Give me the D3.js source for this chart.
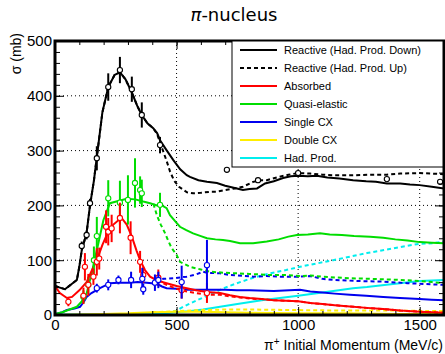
<!DOCTYPE html>
<html>
<head>
<meta charset="utf-8">
<script src="https://cdn.jsdelivr.net/npm/d3@7"></script>
<style>
  html, body { margin: 0; padding: 0; background: #fff; }
  svg { display: block; }
  text { font-family: "Liberation Sans", Arial, sans-serif; fill: #000; }
</style>
</head>
<body>
<svg id="chart" width="445" height="354"></svg>
<script>
// ---- π-nucleus cross sections: MC curves (Had. Prod. Down = solid, Up = dashed) ----
const reactiveDown = [[0,53],[20,50],[41,47],[70,57],[90,64],[100,88],[110,118],[130,150],[144,200],[160,245],[172,288],[195,370],[219,416],[245,438],[267,443],[290,430],[316,406],[340,380],[357,365],[380,350],[404,341],[420,332],[432,319],[460,300],[486,283],[515,266],[542,255],[555,252],[590,246],[625,243],[666,241],[700,236],[748,231],[773,228],[800,230],[831,231],[864,240],[900,244],[938,250],[970,253],[1000,254],[1040,253],[1077,254],[1120,251],[1170,249],[1226,246],[1280,244],[1320,243],[1365,240],[1420,240],[1460,238],[1500,237],[1550,234],[1600,231]];
const reactiveUp = [[0,53],[20,50],[41,47],[70,57],[90,64],[100,88],[110,118],[130,150],[144,200],[160,245],[172,288],[195,370],[219,416],[245,438],[267,443],[290,430],[316,406],[340,380],[357,365],[380,350],[404,341],[420,330],[440,305],[460,280],[473,262],[490,245],[510,234],[543,224],[568,222],[600,223],[640,225],[666,225],[700,228],[740,231],[773,234],[815,243],[850,246],[871,246],[920,252],[960,256],[1000,259],[1050,258],[1100,256],[1150,255],[1226,255],[1300,256],[1365,256],[1420,258],[1500,259],[1550,258],[1600,257]];

const absorbedDown = [[0,53],[20,40],[49,31],[70,33],[100,45],[130,60],[150,80],[172,100],[195,128],[213,146],[240,165],[261,173],[274,177],[295,165],[316,143],[335,118],[350,100],[370,82],[391,70],[420,63],[459,58],[500,53],[542,49],[580,45],[625,42],[679,40],[720,36],[760,33],[800,31],[850,29],[900,27],[950,26],[1000,25],[1050,22],[1100,20],[1150,18],[1200,16],[1283,13],[1350,11],[1420,8],[1500,6],[1550,5],[1600,4]];
const absorbedUp = [[420,63],[459,55],[500,48],[542,43],[580,40],[625,37],[679,37],[720,34],[760,32],[800,30],[850,29],[900,27],[950,26],[1000,25],[1050,22],[1100,20],[1150,18],[1200,16],[1283,13],[1350,11],[1420,8],[1500,6],[1550,5],[1600,4]];

const quasiDown = [[0,2],[30,5],[60,10],[90,15],[110,25],[130,39],[150,75],[172,118],[199,173],[226,204],[260,208],[295,212],[330,211],[363,207],[391,204],[420,200],[440,200],[459,195],[473,182],[500,168],[514,161],[540,155],[568,149],[600,144],[625,140],[660,138],[691,137],[720,135],[761,131],[815,131],[871,134],[920,138],[960,143],[995,146],[1040,147],[1090,149],[1130,147],[1180,146],[1230,144],[1296,143],[1350,141],[1400,138],[1450,136],[1500,133],[1550,132],[1600,131]];
const quasiUp = [[405,203],[419,182],[435,165],[452,150],[466,135],[480,122],[500,110],[514,97],[555,88],[600,83],[637,79],[700,77],[748,76],[800,75],[884,73],[950,73],[1008,71],[1050,72],[1100,70],[1213,67],[1300,66],[1419,64],[1500,62],[1550,60],[1600,58]];

const singleCxDown = [[0,2],[30,5],[49,9],[80,12],[103,15],[120,25],[130,33],[150,40],[185,49],[226,58],[260,59],[308,59],[340,60],[377,59],[419,57],[440,52],[459,49],[500,48],[542,46],[609,46],[651,46],[700,46],[748,45],[800,45],[900,44],[1008,46],[1050,43],[1100,41],[1150,39],[1213,37],[1280,35],[1350,33],[1419,31],[1500,29],[1550,28],[1600,27]];
const singleCxUp = [[419,57],[445,66],[487,67],[542,70],[580,74],[609,79],[625,77],[679,76],[720,73],[815,70],[870,71],[925,70],[1008,70],[1049,71],[1100,66],[1144,64],[1250,62],[1350,61],[1450,58],[1500,57],[1550,56],[1600,55]];

const doubleCxDown = [[0,0],[100,1],[200,2],[300,3],[400,5],[500,6],[600,6],[700,5],[800,4],[1000,3],[1200,3],[1400,2],[1600,2]];
const doubleCxUp = [[400,5],[500,7],[600,9],[700,10],[800,10],[1000,9],[1200,8],[1400,8],[1600,7]];

const hadProdDown = [[0,1],[200,1],[300,1],[400,2],[473,4],[550,7],[609,10],[679,15],[750,20],[850,27],[1000,35],[1100,41],[1226,49],[1283,51],[1400,57],[1500,62],[1600,64]];
const hadProdUp = [[400,2],[460,4],[500,8],[527,15],[560,22],[625,35],[700,50],[748,58],[815,68],[884,76],[950,82],[1008,88],[1144,100],[1283,113],[1419,124],[1500,130],[1555,131],[1600,134]];

// ---- measured points: momentum, cross section, error ----
const reactiveX = [110,130,144,172,219,267,316,357,432,707,835,1000,1365,1584];
const reactiveY = [126,146,204,286,416,447,412,365,310,265,246,259,248,243];
const reactiveE = [8,8,8,22,25,24,23,23,15,4,4,4,4,4];

const absorbedX = [55,117,123,137,158,172,182,210,219,233,267,311,350,363,425,521,625];
const absorbedY = [24,35,88,55,70,97,103,161,152,158,177,141,97,73,68,45,40];
const absorbedE = [8,15,25,20,15,25,20,30,25,25,28,30,20,15,15,15,18];

const quasiX = [117,137,160,172,219,267,300,329,350,357,432];
const quasiY = [33,55,100,144,213,205,210,241,228,222,201];
const quasiE = [12,15,25,35,33,40,45,45,25,25,22];

const singleCxX = [172,219,261,313,359,363,411,425,521,625];
const singleCxY = [49,55,64,64,66,47,59,64,60,91];
const singleCxE = [8,10,8,15,20,10,15,15,30,46];

// ---- axis ticks and labels ----
const xMajor = [0,500,1000,1500];
const yMajor = [0,100,200,300,400,500];
const legendLabels = ["Reactive (Had. Prod. Down)","Reactive (Had. Prod. Up)","Absorbed","Quasi-elastic","Single CX","Double CX","Had. Prod."];
const legendColors = ["#000","#000","#ff0000","#00dd00","#0000ee","#ffee00","#00eeee"];

(function draw() {
  const svg = d3.select("#chart");
  const W = 445, H = 354;
  const pL = 55, pR = 444, pT = 41, pB = 315;
  const x = d3.scaleLinear().domain([0,1600]).range([pL,pR]);
  const y = d3.scaleLinear().domain([0,500]).range([pB,pT]);

  svg.append("rect").attr("width",W).attr("height",H).attr("fill","#fff");

  // title
  const title = svg.append("text").attr("x",234).attr("y",21).attr("text-anchor","middle")
    .style("font-family","'DejaVu Sans', sans-serif").style("font-size","18px");
  title.append("tspan").style("font-style","italic").text("π");
  title.append("tspan").text("-nucleus");

  // dotted grid at major ticks
  const grid = svg.append("g").attr("stroke","#000").attr("stroke-width",1).attr("stroke-dasharray","1,3");
  xMajor.filter(v => v > 0).forEach(v => grid.append("line").attr("x1",x(v)).attr("x2",x(v)).attr("y1",pT).attr("y2",pB));
  yMajor.filter(v => v > 0 && v < 500).forEach(v => grid.append("line").attr("y1",y(v)).attr("y2",y(v)).attr("x1",pL).attr("x2",pR));

  // plot-area clip
  svg.append("clipPath").attr("id","plotclip").append("rect")
    .attr("x",pL).attr("y",pT).attr("width",pR-pL).attr("height",pB-pT);
  const plot = svg.append("g").attr("clip-path","url(#plotclip)");

  const line = d3.line().x(d => x(d[0])).y(d => y(d[1]));
  function curve(data, color, dashed) {
    plot.append("path").datum(data).attr("d",line).attr("fill","none")
      .attr("stroke",color).attr("stroke-width",2)
      .attr("stroke-dasharray", dashed ? "4,3" : null);
  }
  curve(hadProdDown,"#00eeee",false); curve(hadProdUp,"#00eeee",true);
  curve(doubleCxDown,"#ffee00",false); curve(doubleCxUp,"#ffee00",true);
  curve(singleCxDown,"#0000ee",false); curve(singleCxUp,"#0000ee",true);
  curve(quasiDown,"#00dd00",false); curve(quasiUp,"#00dd00",true);
  curve(absorbedDown,"#ff0000",false); curve(absorbedUp,"#ff0000",true);
  curve(reactiveDown,"#000",false); curve(reactiveUp,"#000",true);

  function points(xs, ys, es, color) {
    const g = plot.append("g");
    xs.forEach((xv,i) => {
      g.append("line").attr("x1",x(xv)).attr("x2",x(xv))
        .attr("y1",y(ys[i]-es[i])).attr("y2",y(ys[i]+es[i]))
        .attr("stroke",color).attr("stroke-width",2);
    });
    xs.forEach((xv,i) => {
      g.append("circle").attr("cx",x(xv)).attr("cy",y(ys[i])).attr("r",2.6)
        .attr("fill","#fff").attr("stroke",color).attr("stroke-width",1.1);
    });
  }
  points(quasiX,quasiY,quasiE,"#00dd00");
  points(absorbedX,absorbedY,absorbedE,"#ff0000");
  points(singleCxX,singleCxY,singleCxE,"#0000ee");
  points(reactiveX,reactiveY,reactiveE,"#000");

  // axes with inward ticks
  const fontAxis = g => g.selectAll("text").style("font-family","'Liberation Sans', Arial, sans-serif").style("font-size","15px").attr("fill","#000");
  const clean = g => { g.select(".domain").remove(); g.selectAll("line").attr("stroke","#000"); };

  svg.append("g").attr("transform",`translate(0,${pB})`)
    .call(d3.axisBottom(x).tickValues(xMajor).tickSize(-8).tickPadding(4).tickFormat(d3.format("d")))
    .call(clean).call(fontAxis);
  svg.append("g").attr("transform",`translate(0,${pB})`)
    .call(d3.axisBottom(x).tickValues(d3.range(0,1601,100)).tickSize(-4).tickFormat(""))
    .call(clean);
  svg.append("g").attr("transform",`translate(0,${pT})`)
    .call(d3.axisTop(x).tickValues(xMajor).tickSize(-8).tickFormat(""))
    .call(clean);
  svg.append("g").attr("transform",`translate(0,${pT})`)
    .call(d3.axisTop(x).tickValues(d3.range(0,1601,100)).tickSize(-4).tickFormat(""))
    .call(clean);

  svg.append("g").attr("transform",`translate(${pL},0)`)
    .call(d3.axisLeft(y).tickValues(yMajor).tickSize(-9).tickPadding(3).tickFormat(d3.format("d")))
    .call(clean).call(fontAxis);
  svg.append("g").attr("transform",`translate(${pL},0)`)
    .call(d3.axisLeft(y).tickValues(d3.range(0,501,20)).tickSize(-5).tickFormat(""))
    .call(clean);
  svg.append("g").attr("transform",`translate(${pR},0)`)
    .call(d3.axisRight(y).tickValues(yMajor).tickSize(-9).tickFormat(""))
    .call(clean);
  svg.append("g").attr("transform",`translate(${pR},0)`)
    .call(d3.axisRight(y).tickValues(d3.range(0,501,20)).tickSize(-5).tickFormat(""))
    .call(clean);

  // frame
  svg.append("rect").attr("x",pL).attr("y",pT).attr("width",pR-pL).attr("height",pB-pT)
    .attr("fill","none").attr("stroke","#000").attr("stroke-width",3);

  // axis titles
  svg.append("text").attr("transform","translate(21,33) rotate(-90)").attr("text-anchor","end")
    .style("font-size","14px").text("σ (mb)");
  const xt = svg.append("text").attr("x",443).attr("y",350).attr("text-anchor","end").style("font-size","14px");
  xt.append("tspan").text("π");
  xt.append("tspan").attr("dy",-5).style("font-size","10px").text("+");
  xt.append("tspan").attr("dy",5).text(" Initial Momentum (MeV/c)");

  // legend
  const lg = svg.append("g");
  lg.append("rect").attr("x",232).attr("y",41).attr("width",211).attr("height",126)
    .attr("fill","#fff").attr("stroke","#000").attr("stroke-width",1);
  legendLabels.forEach((lab,i) => {
    const yy = 50 + i*18;
    lg.append("line").attr("x1",240).attr("x2",277).attr("y1",yy).attr("y2",yy)
      .attr("stroke",legendColors[i]).attr("stroke-width",2)
      .attr("stroke-dasharray", i === 1 ? "4,3" : null);
    lg.append("text").attr("x",284).attr("y",yy+4).style("font-size","11px").text(lab);
  });
})();
</script>
</body>
</html>
